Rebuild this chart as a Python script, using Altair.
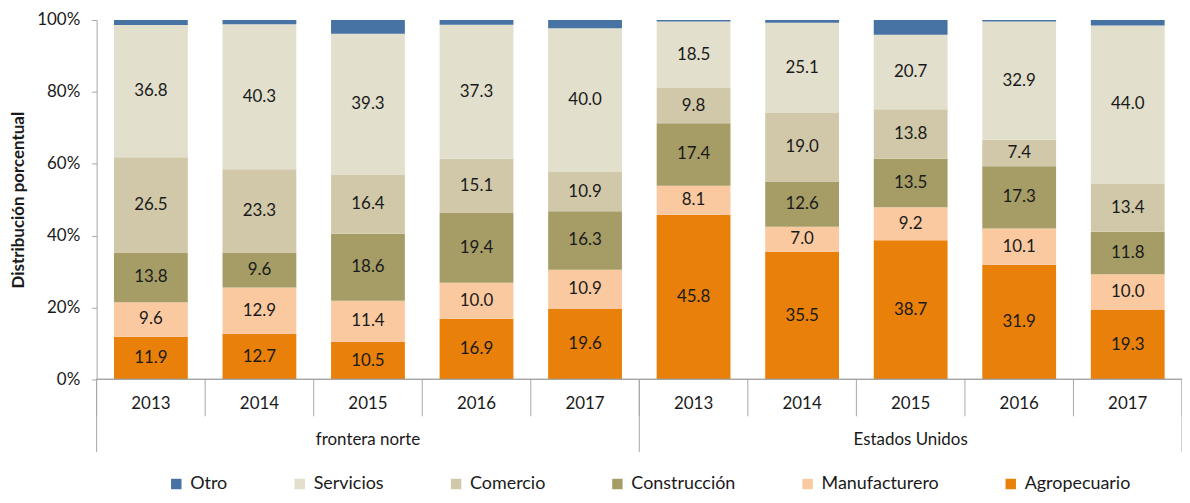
import altair as alt
import pandas as pd

groups = ["frontera norte"] * 5 + ["Estados Unidos"] * 5
years = ["2013", "2014", "2015", "2016", "2017"] * 2
sectors = ["Agropecuario", "Manufacturero", "Construcción", "Comercio", "Servicios", "Otro"]
colors = ["#E8800A", "#FAC9A0", "#A59C66", "#D0C8A8", "#E2DFCC", "#4672A4"]

agropecuario = [11.9, 12.7, 10.5, 16.9, 19.6, 45.8, 35.5, 38.7, 31.9, 19.3]
manufacturero = [9.6, 12.9, 11.4, 10.0, 10.9, 8.1, 7.0, 9.2, 10.1, 10.0]
construccion = [13.8, 9.6, 18.6, 19.4, 16.3, 17.4, 12.6, 13.5, 17.3, 11.8]
comercio = [26.5, 23.3, 16.4, 15.1, 10.9, 9.8, 19.0, 13.8, 7.4, 13.4]
servicios = [36.8, 40.3, 39.3, 37.3, 40.0, 18.5, 25.1, 20.7, 32.9, 44.0]
otro = [1.4, 1.2, 3.8, 1.3, 2.3, 0.4, 0.8, 4.1, 0.4, 1.5]

series = [agropecuario, manufacturero, construccion, comercio, servicios, otro]

rows = []
for s_i, (name, vals) in enumerate(zip(sectors, series)):
    for i, v in enumerate(vals):
        rows.append({"idx": i, "group": groups[i], "year": years[i],
                     "sector": name, "ord": s_i, "value": v,
                     "label": "" if name == "Otro" else f"{v:.1f}"})
df = pd.DataFrame(rows)

cats = pd.DataFrame({"idx": list(range(10)), "year": years, "group": groups})
seps = pd.DataFrame({"pos": list(range(11))})
gseps = pd.DataFrame({"pos": [0, 5, 10]})
glabels = pd.DataFrame({"group": ["frontera norte", "Estados Unidos"], "idx": [0, 5]})

FONT = "Lato"
TXT = "#1a1a1a"
GREY = "#A6A6A6"
H = 361
xscale = alt.Scale(domain=[0, 10], nice=False, zero=False)
yscale = alt.Scale(domain=[0, 100], nice=False)

base = alt.Chart(df).transform_stack(
    stack="value", groupby=["idx"], as_=["y0", "y1"],
    sort=[alt.SortField("ord", order="ascending")]
).transform_calculate(
    xa="datum.idx + 0.16", xb="datum.idx + 0.84", ymid="(datum.y0 + datum.y1) / 2"
)

bars = base.mark_rect().encode(
    x=alt.X("xa:Q", scale=xscale, axis=None),
    x2="xb:Q",
    y=alt.Y("y0:Q", scale=yscale, title="Distribución porcentual",
            axis=alt.Axis(values=[0, 20, 40, 60, 80, 100], labelExpr="datum.value + '%'",
                          grid=False, domainColor=GREY, tickColor=GREY,
                          tickSize=5, labelFontSize=17, labelFont=FONT, labelColor=TXT,
                          labelPadding=12, titleFont=FONT, titleFontSize=17,
                          titleFontWeight="bold", titleColor=TXT, titlePadding=9)),
    y2="y1:Q",
    color=alt.Color("sector:N", scale=alt.Scale(domain=sectors[::-1], range=colors[::-1]),
                    legend=alt.Legend(orient="none", legendX=71, legendY=457,
                                      direction="horizontal", columns=6, title=None,
                                      symbolType="square", symbolSize=110,
                                      symbolStrokeWidth=0, labelFontSize=18,
                                      labelFont=FONT, labelColor=TXT,
                                      columnPadding=63, labelOffset=5)),
)

texts = base.mark_text(fontSize=17, font=FONT, color=TXT).encode(
    x=alt.X("mx:Q", scale=xscale),
    y=alt.Y("ymid:Q", scale=yscale),
    text="label:N",
).transform_calculate(mx="datum.idx + 0.5")

xdomain = alt.Chart(seps).mark_rule(color=GREY).encode(
    x=alt.datum(0, scale=xscale), x2=alt.datum(10), y=alt.value(H)
)

ysep = alt.Chart(seps).mark_rule(color=GREY).encode(
    x=alt.X("pos:Q", scale=xscale), y=alt.value(H), y2=alt.value(H + 37)
)
gsep = alt.Chart(gseps).mark_rule(color=GREY).encode(
    x=alt.X("pos:Q", scale=xscale), y=alt.value(H), y2=alt.value(H + 73)
)
ylab = alt.Chart(cats).mark_text(fontSize=17, font=FONT, color=TXT).encode(
    x=alt.X("mx:Q", scale=xscale), y=alt.value(H + 25), text="year:N"
).transform_calculate(mx="datum.idx + 0.5")
glab = alt.Chart(glabels).mark_text(fontSize=17, font=FONT, color=TXT).encode(
    x=alt.X("mx:Q", scale=xscale), y=alt.value(H + 61), text="group:N"
).transform_calculate(mx="datum.idx + 2.5")

chart = alt.layer(bars, texts, xdomain, ysep, gsep, ylab, glab).properties(
    width=1090, height=H,
    autosize=alt.AutoSizeParams(type="none"),
    padding={"left": 89, "top": 11, "right": 0, "bottom": 115},
).configure_view(stroke=None)

chart.save("out.html", embed_options={"renderer": "svg", "actions": False})
